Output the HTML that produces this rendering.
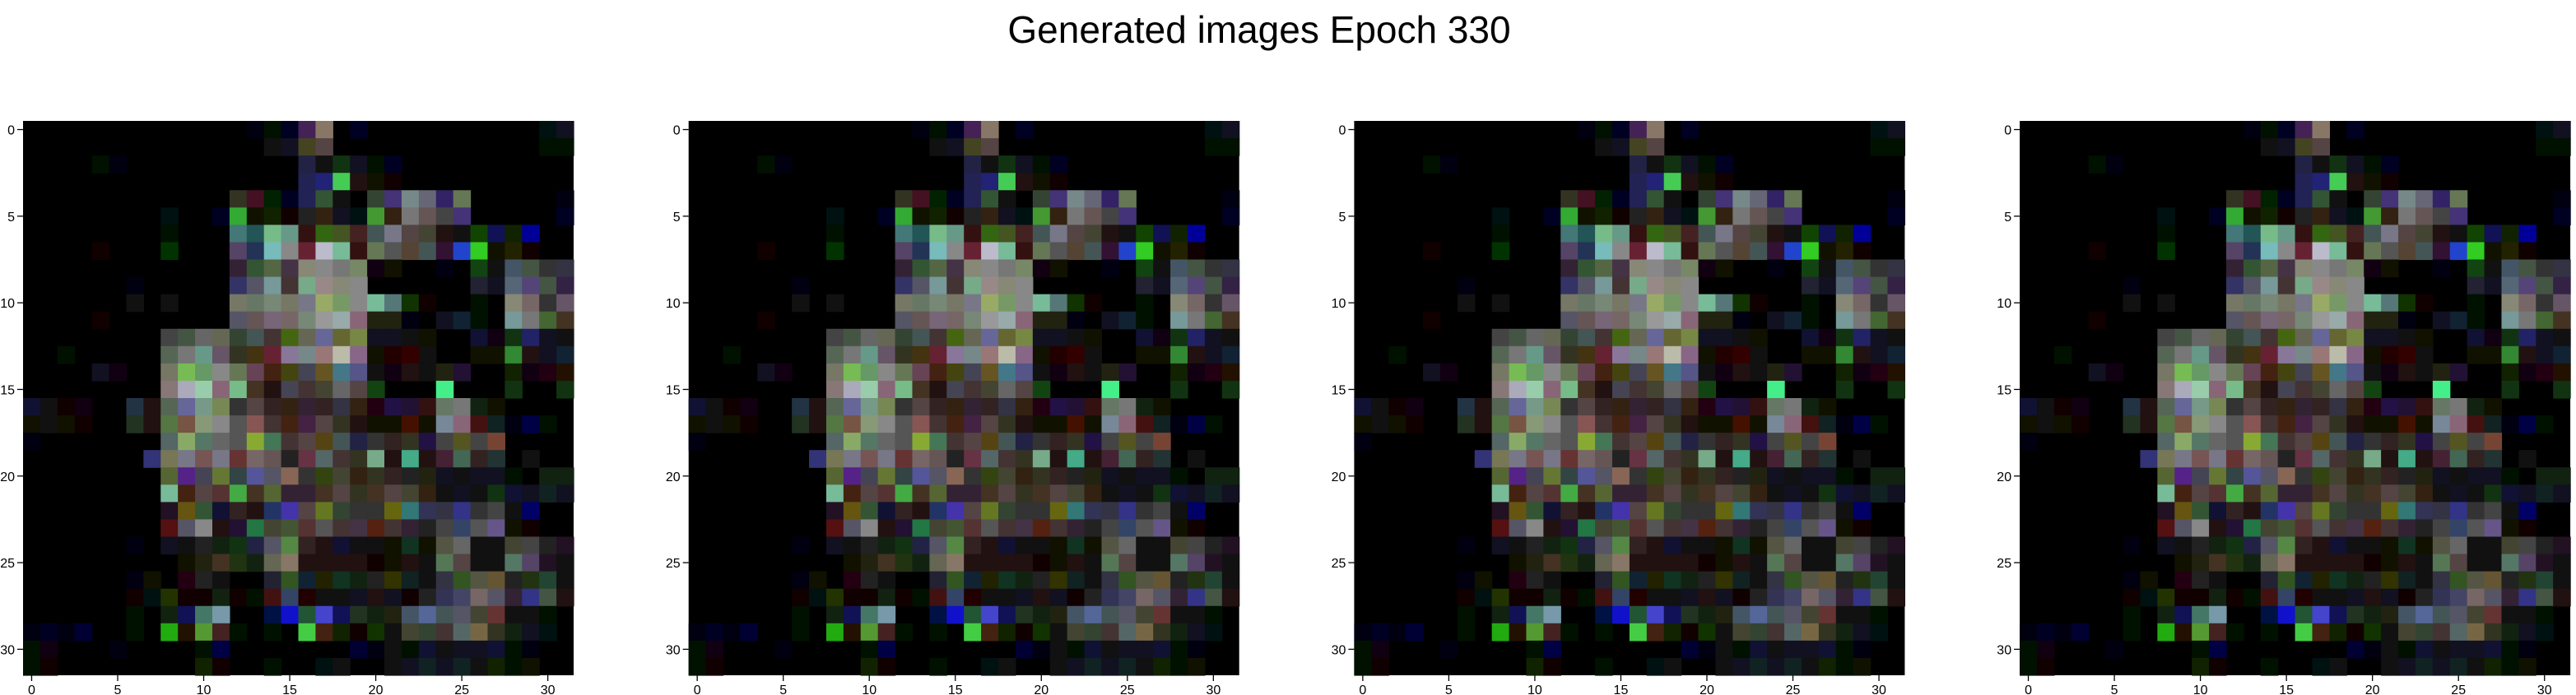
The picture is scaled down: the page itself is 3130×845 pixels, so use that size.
<!DOCTYPE html>
<html><head><meta charset="utf-8"><style>
html,body{margin:0;padding:0;background:#fff;}
svg{display:block;font-family:"Liberation Sans","DejaVu Sans",sans-serif;}
</style></head><body>
<svg id="fig" width="3130" height="845" viewBox="0 0 3130 845">
<rect width="3130" height="845" fill="#fff"/>
<text x="1530" y="40" font-size="46" text-anchor="middle" dominant-baseline="middle" fill="#000">Generated images Epoch 330</text>
</svg>
<script>
// Pixel grid data: each row lists "col:hexcolor" for non-black cells
const gridRows = [
"13:001 14:010 15:002 16:425 17:876 19:002 30:011 31:112",
"14:111 15:112 16:442 17:544 30:010 31:010",
"4:010 5:001 16:224 17:111 18:131 19:112 20:010 21:002",
"16:225 17:227 18:4c5 19:211 20:110 21:100",
"12:332 13:412 14:020 15:002 16:225 17:353 18:111 20:343 21:437 22:788 23:667 24:326 25:675 31:001",
"8:011 11:002 12:3a3 13:110 14:120 15:100 16:222 17:321 18:112 19:011 20:493 21:321 22:777 23:655 24:444 25:437 31:002",
"8:010 12:477 13:255 14:7b8 15:698 16:311 17:361 18:452 19:422 20:455 21:778 22:544 23:443 24:211 25:111 26:140 27:115 28:120 29:009",
"4:100 8:030 12:546 13:235 14:7bb 15:888 16:623 17:bbc 18:7b9 19:311 20:675 21:555 22:543 23:455 24:313 25:24c 26:3c2 27:110 28:220 29:100",
"12:323 13:353 14:564 15:434 16:887 17:888 18:777 19:786 20:101 21:110 24:001 26:141 27:111 28:456 29:454 30:333 31:334",
"6:001 12:336 13:556 14:799 15:433 16:7a8 17:988 18:887 19:888 26:223 27:112 28:567 29:547 30:454 31:324",
"6:111 8:111 12:776 13:676 14:787 15:776 16:778 17:9a6 18:796 19:888 20:7b9 21:577 22:130 23:100 26:010 28:887 29:766 30:333 31:656",
"4:100 12:556 13:655 14:767 15:766 16:787 17:999 18:9aa 19:867 20:221 21:221 22:001 24:112 25:123 26:010 28:799 29:777 30:463 31:432",
"8:444 9:454 10:666 11:665 12:343 13:455 14:433 15:461 16:665 17:669 18:663 19:784 20:112 21:112 22:111 23:110 26:113 27:101 28:131 29:226 30:112 31:111",
"2:010 8:565 9:777 10:698 11:656 12:332 13:431 14:623 15:879 16:788 17:977 18:bba 19:868 20:110 21:200 22:300 23:111 26:110 27:110 28:383 29:211 30:112 31:123",
"4:112 5:101 8:776 9:7b5 10:696 11:888 12:675 13:645 14:421 15:441 16:445 17:652 18:478 19:558 20:111 21:101 22:211 23:111 24:221 25:213 28:120 29:101 30:201 31:210",
"8:877 9:aab 10:9ca 11:867 12:7b8 13:432 14:211 15:445 16:433 17:443 18:666 19:544 20:141 24:4e8 28:131 31:131",
"0:113 1:111 2:100 3:101 6:234 7:211 8:565 9:669 10:798 11:785 12:333 13:544 14:322 15:321 16:323 17:322 18:334 19:321 20:201 21:214 22:213 23:311 24:676 25:777 26:121 27:110",
"0:110 1:111 2:110 3:100 6:232 7:211 8:574 9:754 10:897 11:888 12:555 13:855 14:433 15:421 16:424 17:544 18:332 19:211 20:110 21:110 22:410 23:110 24:789 25:867 26:411 27:122 28:001 29:004 30:010",
"0:001 8:566 9:8a6 10:576 11:666 12:555 13:8a3 14:475 15:433 16:544 17:541 18:455 19:224 20:333 21:322 22:332 23:214 24:444 25:552 26:444 27:743",
"7:337 8:775 9:778 10:755 11:778 12:633 13:766 14:655 15:222 16:634 17:566 18:433 19:332 20:7a8 21:211 22:4a8 23:211 24:423 25:465 26:322 27:233 29:111",
"8:563 9:528 10:445 11:673 12:344 13:559 14:556 15:865 16:333 17:341 18:443 19:321 20:332 21:322 22:222 23:221 24:112 25:111 26:112 27:112 28:010 30:121 31:121",
"8:7b9 9:421 10:544 11:533 12:4a4 13:432 14:563 15:323 16:323 17:432 18:544 19:332 20:432 21:544 22:443 23:321 24:111 25:112 26:111 27:131 28:113 29:112 30:122 31:112",
"8:212 9:651 10:353 11:113 12:322 13:211 14:236 15:43a 16:544 17:672 18:343 19:333 20:333 21:661 22:377 23:335 24:334 25:338 26:333 27:444 28:111 29:006",
"8:511 9:556 10:888 11:211 12:213 13:274 14:443 15:453 16:533 17:555 18:433 19:434 20:521 21:433 22:323 23:222 24:444 25:346 26:555 27:658 28:110 29:100",
"6:001 8:112 9:111 10:222 11:121 12:131 13:224 14:556 15:584 16:322 17:211 18:113 19:111 20:111 21:110 22:132 23:110 24:554 25:666 26:111 27:111 28:443 29:444 30:222 31:212",
"9:110 10:221 11:432 12:231 13:121 14:665 15:876 16:211 17:211 18:211 19:211 20:100 21:110 22:211 23:111 24:575 25:544 26:111 27:111 28:576 29:546 30:212 31:111",
"6:001 7:110 9:201 10:222 11:111 14:223 15:352 16:123 17:220 18:132 19:121 20:222 21:330 22:122 23:111 24:334 25:352 26:554 27:653 28:222 29:231 30:243 31:111",
"6:100 7:011 8:230 9:100 10:100 11:121 12:100 13:010 14:411 15:346 16:200 17:111 18:111 19:112 20:211 21:112 22:100 23:222 24:335 25:446 26:766 27:556 28:323 29:338 30:454 31:211",
"6:010 8:121 9:115 10:476 11:79a 14:014 15:11c 16:253 17:44c 18:115 19:232 20:121 21:221 22:456 23:569 24:455 25:556 26:443 27:633 28:111 29:111 30:010",
"0:001 1:002 2:001 3:003 6:010 8:2a1 9:210 10:593 11:422 12:010 14:010 16:4c4 17:421 18:120 19:100 20:130 21:111 22:443 23:343 24:433 25:566 26:764 27:332 28:121 29:112 30:011",
"0:010 1:101 5:001 10:010 11:004 19:003 20:001 21:111 22:010 23:113 24:111 25:112 26:112 27:113 28:010 29:001",
"0:010 1:100 10:120 11:100 14:010 17:011 18:111 21:111 22:112 23:122 24:112 25:122 26:111 27:120 28:010 29:110"
];
const tickValues = [0,5,10,15,20,25,30];
const panelCount = 4;
const gridSize = 32;

const NS = "http://www.w3.org/2000/svg";
const svg = document.getElementById('fig');
const panelLeft0 = 28, panelStep = 808.7, panelTop = 147, panelW = 669, panelH = 674;

function mk(tag, attrs){const e=document.createElementNS(NS,tag);for(const k in attrs)e.setAttribute(k,attrs[k]);return e;}

for(let p=0;p<panelCount;p++){
  const left = panelLeft0 + p*panelStep;
  const cw = panelW/gridSize, ch = panelH/gridSize;
  const xScale = v => left + (v+0.5)*cw;
  const yScale = v => panelTop + (v+0.5)*ch;
  const g = mk('g',{});
  
  
  svg.appendChild(g);
  const bg = mk('rect',{x:left,y:panelTop,width:panelW,height:panelH,fill:'#000'});
  
  
  g.appendChild(bg);
  gridRows.forEach((row,r)=>{
    row.split(' ').filter(Boolean).forEach(tok=>{
      const [c,col]=tok.split(':');
      const ci=+c;
      const x0 = xScale(ci-0.5), x1 = xScale(ci+0.5);
      const y0 = yScale(r-0.5), y1 = yScale(r+0.5);
      const rc = mk('rect',{x:x0.toFixed(2),y:y0.toFixed(2),width:(x1-x0+0.6).toFixed(2),height:(y1-y0+0.6).toFixed(2),fill:'#'+col});
      
      
      g.appendChild(rc);
    });
  });
  tickValues.forEach(t=>{
    const tx = xScale(t);
    const l1 = mk('line',{x1:tx,x2:tx,y1:panelTop+panelH,y2:panelTop+panelH+7,stroke:'#000','stroke-width':1.3});
    
    
    g.appendChild(l1);
    const lt = mk('text',{x:tx,y:panelTop+panelH+23,'font-size':16,'text-anchor':'middle',fill:'#000'});
    lt.textContent = t;
    
    
    g.appendChild(lt);
    const ty = yScale(t);
    const l2 = mk('line',{x1:left-7,x2:left,y1:ty,y2:ty,stroke:'#000','stroke-width':1.3});
    
    
    g.appendChild(l2);
    const yt = mk('text',{x:left-10,y:ty+6,'font-size':16,'text-anchor':'end',fill:'#000'});
    yt.textContent = t;
    
    
    g.appendChild(yt);
  });
}
</script>
</body></html>
